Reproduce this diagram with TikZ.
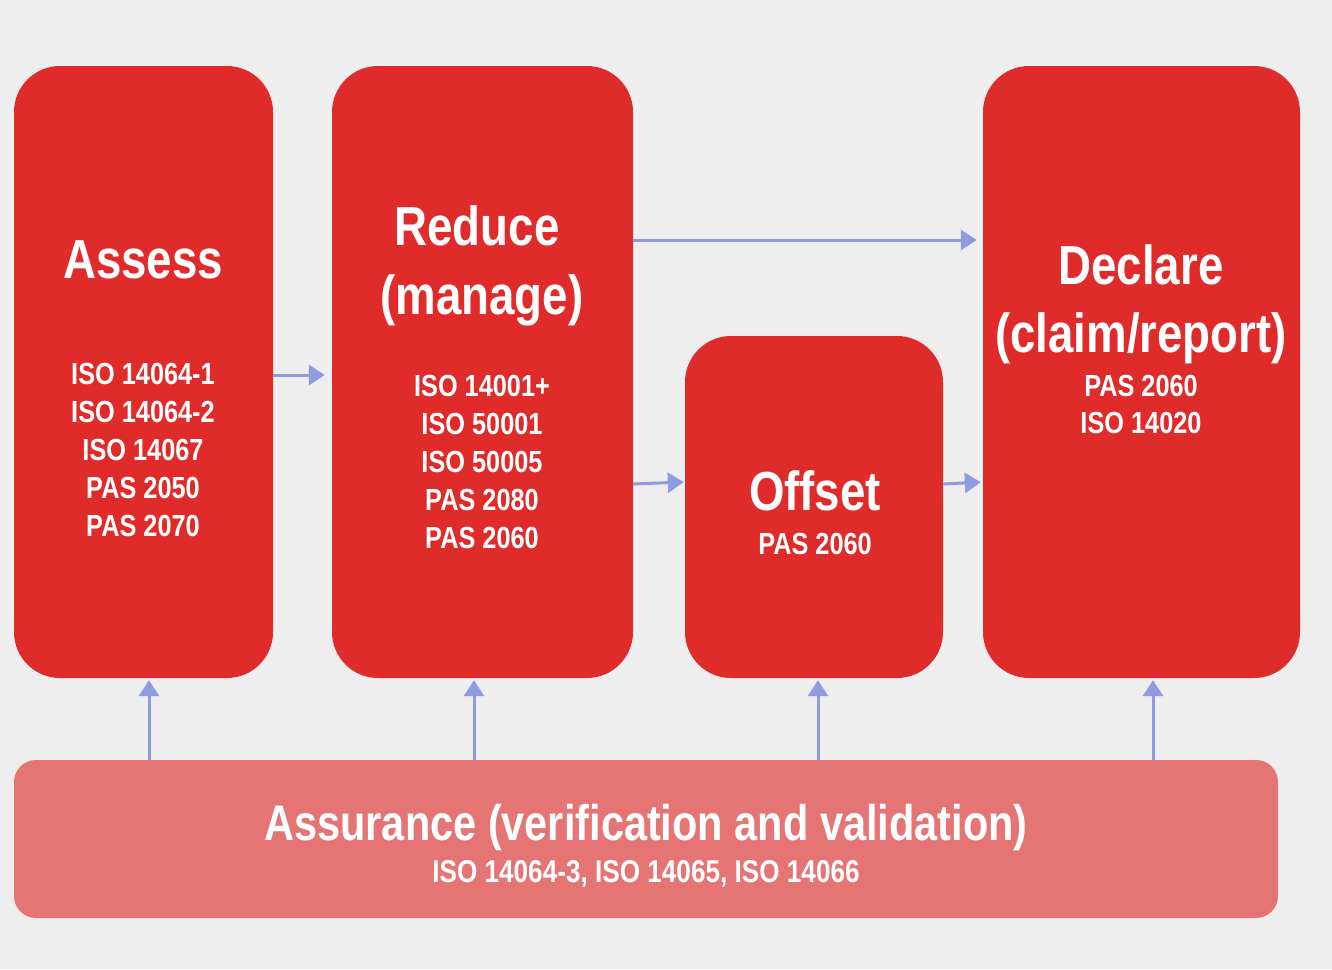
\documentclass[tikz,border=0pt]{standalone}
\usepackage{fontspec}
\setmainfont{Liberation Sans}[FakeStretch=0.83]
\usetikzlibrary{arrows.meta,calc}
\definecolor{bg}{HTML}{EEEEEE}
\definecolor{boxred}{HTML}{E02B2B}
\definecolor{assred}{HTML}{E57574}
\definecolor{arrblue}{HTML}{8E9BE0}
\tikzset{
  redbox/.style={fill=boxred, draw=none, rounded corners=46pt, inner sep=0pt},
  assbox/.style={fill=assred, draw=none, rounded corners=22pt, inner sep=0pt},
  title/.style={text=white, font=\bfseries\fontsize{55}{60}\selectfont, anchor=base, inner sep=0pt},
  atitle/.style={text=white, font=\bfseries\fontsize{50}{55}\selectfont, anchor=base, inner sep=0pt},
  std/.style={text=white, font=\bfseries\fontsize{30.5}{34}\selectfont, anchor=base, inner sep=0pt},
  arr/.style={draw=arrblue, line width=3pt, -{Triangle[length=16pt,width=20pt]}},
}
\begin{document}
\begin{tikzpicture}[x=1pt,y=-1pt]
\fill[bg] (0,0) rectangle (1332,969);
\useasboundingbox (0,0) rectangle (1332,969);
% boxes
\node[redbox, minimum width=259pt, minimum height=612pt] (assess) at (143.5,372) {};
\node[redbox, minimum width=301pt, minimum height=612pt] (reduce) at (482.5,372) {};
\node[redbox, minimum width=258pt, minimum height=342pt] (offset) at (814,507) {};
\node[redbox, minimum width=317pt, minimum height=612pt] (declare) at (1141.5,372) {};
\node[assbox, minimum width=1264pt, minimum height=158pt] (assure) at (646,839) {};
% texts
\node[title] (tassess) at (143,278) {Assess};
\node[std] (a1) at (143,384) {ISO 14064-1};
\node[std] (a2) at (143,422) {ISO 14064-2};
\node[std] (a3) at (143,460) {ISO 14067};
\node[std] (a4) at (143,498) {PAS 2050};
\node[std] (a5) at (143,536) {PAS 2070};
\node[title] (treduce1) at (477,245) {Reduce};
\node[title] (treduce2) at (482,314) {(manage)};
\node[std] (r1) at (482,396) {ISO 14001+};
\node[std] (r2) at (482,434) {ISO 50001};
\node[std] (r3) at (482,472) {ISO 50005};
\node[std] (r4) at (482,510) {PAS 2080};
\node[std] (r5) at (482,548) {PAS 2060};
\node[title] (toffset) at (815,510) {Offset};
\node[std] (o1) at (815,554) {PAS 2060};
\node[title] (tdeclare1) at (1141,284) {Declare};
\node[title] (tdeclare2) at (1141,352) {(claim/report)};
\node[std] (d1) at (1141,396) {PAS 2060};
\node[std] (d2) at (1141,433) {ISO 14020};
\node[atitle] (tassure) at (646,840) {Assurance (verification and validation)};
\node[std, font=\bfseries\fontsize{31.5}{34}\selectfont] (s1) at (646,882) {ISO 14064-3, ISO 14065, ISO 14066};
% arrows
\draw[arr, shorten >=7pt] (assess.east |- 0,375) -- (reduce.west |- 0,375);
\draw[arr, shorten >=6pt] (reduce.east |- 0,240) -- (declare.west |- 0,240);
\draw[arr, shorten >=1pt] (reduce.east |- 0,484) -- (offset.west |- 0,482);
\draw[arr, shorten >=2pt] (offset.east |- 0,484) -- (declare.west |- 0,482);
\draw[arr, shorten >=2pt] (assure.north -| 149,0) -- (assess.south -| 149,0);
\draw[arr, shorten >=2pt] (assure.north -| 474,0) -- (reduce.south -| 474,0);
\draw[arr, shorten >=2pt] (assure.north -| 818,0) -- (offset.south -| 818,0);
\draw[arr, shorten >=2pt] (assure.north -| 1153,0) -- (declare.south -| 1153,0);
\end{tikzpicture}
\end{document}
